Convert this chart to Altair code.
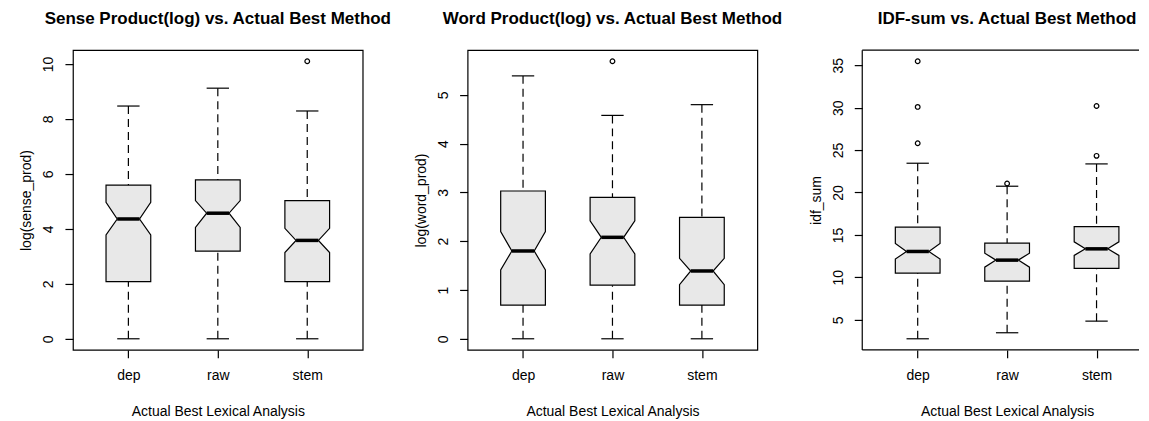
import altair as alt
import pandas as pd

groups = ["dep", "raw", "stem"]

# Panel 1: log(sense_prod)
sense_lo = [0.0, 0.0, 0.0]
sense_q1 = [2.08, 3.19, 2.08]
sense_med = [4.36, 4.57, 3.58]
sense_q3 = [5.59, 5.78, 5.03]
sense_hi = [8.47, 9.12, 8.29]
sense_notch_lo = [3.78, 4.05, 3.14]
sense_notch_hi = [4.97, 5.03, 4.02]
sense_out_group = ["stem"]
sense_out_value = [10.1]
sense_ticks = [0, 2, 4, 6, 8, 10]

# Panel 2: log(word_prod)
word_lo = [0.0, 0.0, 0.0]
word_q1 = [0.69, 1.10, 0.69]
word_med = [1.80, 2.08, 1.39]
word_q3 = [3.03, 2.90, 2.49]
word_hi = [5.39, 4.58, 4.80]
word_notch_lo = [1.41, 1.74, 1.11]
word_notch_hi = [2.20, 2.42, 1.65]
word_out_group = ["raw"]
word_out_value = [5.69]
word_ticks = [0, 1, 2, 3, 4, 5]

# Panel 3: idf_sum
idf_lo = [2.76, 3.47, 4.84]
idf_q1 = [10.50, 9.55, 11.05]
idf_med = [13.05, 12.03, 13.36]
idf_q3 = [15.91, 14.03, 15.99]
idf_hi = [23.45, 20.74, 23.37]
idf_notch_lo = [12.15, 11.20, 12.58]
idf_notch_hi = [14.00, 12.85, 14.19]
idf_out_group = ["dep", "dep", "dep", "raw", "stem", "stem"]
idf_out_value = [25.81, 30.09, 35.47, 21.06, 24.32, 30.20]
idf_ticks = [5, 10, 15, 20, 25, 30, 35]

FONT = "Liberation Sans"
HALF = 0.25          # half box width in x units
FULL_W = 290
PX_PER_UNIT = FULL_W / 3.24
H = 300


def r_range(lo, hi):
    ext = (hi - lo) * 0.04
    return [lo - ext, hi + ext]


def panel(title, ytitle, lo, q1, med, q3, hi, nlo, nhi, og, ov, yticks, width, framed):
    rows = []
    for i, g in enumerate(groups):
        p = i + 1
        ys = [q1[i], nlo[i], med[i], nhi[i], q3[i]]
        hw = [HALF, HALF, HALF / 2, HALF, HALF]
        for k, (yy, h) in enumerate(zip(ys, hw)):
            rows.append(dict(g=g, k=k, y=yy, xl=p - h, xr=p + h))
    box_df = pd.DataFrame(rows)
    st = pd.DataFrame(dict(
        g=groups, p=[1, 2, 3], lo=lo, q1=q1, med=med, q3=q3, hi=hi,
        cl=[i + 1 - HALF / 2 for i in range(3)],
        cr=[i + 1 + HALF / 2 for i in range(3)],
    ))
    out_df = pd.DataFrame(dict(p=[groups.index(g) + 1 for g in og], v=ov))

    allv = list(lo) + list(hi) + list(ov)
    ydom = r_range(min(allv), max(allv))
    xdom = [0.38, 0.38 + width / PX_PER_UNIT]

    xscale = alt.Scale(domain=xdom, nice=False, zero=False)
    yscale = alt.Scale(domain=ydom, nice=False, zero=False)
    xaxis = alt.Axis(values=[1, 2, 3], labelExpr=f"{groups}[datum.value - 1]",
                     title="Actual Best Lexical Analysis", grid=False, domain=False,
                     tickSize=8, labelPadding=11, titlePadding=22,
                     titleX=FULL_W / 2)
    yaxis = alt.Axis(values=yticks, title=ytitle, grid=False, domain=False,
                     tickSize=8, labelAngle=270, labelAlign="center",
                     labelBaseline="bottom", labelPadding=9, titlePadding=8)

    def X(f):
        return alt.X(f, type="quantitative", scale=xscale, axis=xaxis)

    def Y(f):
        return alt.Y(f, type="quantitative", scale=yscale, axis=yaxis)

    dash = [8, 5]
    lw = 1.2
    whisk_hi = alt.Chart(st).mark_rule(color="black", strokeWidth=lw, strokeDash=dash).encode(
        x=X("p"), y=Y("hi"), y2="q3:Q")
    whisk_lo = alt.Chart(st).mark_rule(color="black", strokeWidth=lw, strokeDash=dash).encode(
        x=X("p"), y=Y("lo"), y2="q1:Q")
    cap_hi = alt.Chart(st).mark_rule(color="black", strokeWidth=lw).encode(
        x=X("cl"), x2="cr:Q", y=Y("hi"))
    cap_lo = alt.Chart(st).mark_rule(color="black", strokeWidth=lw).encode(
        x=X("cl"), x2="cr:Q", y=Y("lo"))
    box = alt.Chart(box_df).mark_area(orient="horizontal", fill="#e8e8e8", fillOpacity=1,
                                      stroke="black", strokeWidth=lw).encode(
        y=Y("y"), x=X("xl"), x2="xr:Q", detail="g:N")
    median = alt.Chart(st).mark_rule(color="black", strokeWidth=3.5, strokeCap="butt").encode(
        x=X("cl"), x2="cr:Q", y=Y("med"))
    outl = alt.Chart(out_df).mark_point(shape="circle", filled=False, size=22, color="black",
                                        strokeWidth=1.2, opacity=1).encode(x=X("p"), y=Y("v"))
    layers = [whisk_hi, whisk_lo, cap_hi, cap_lo, box, median, outl]
    props = dict(width=width, height=H,
                 title=alt.TitleParams(text=title, anchor="middle", frame="group",
                                       dx=(FULL_W - width) / 2))
    if not framed:
        one = pd.DataFrame({"a": [0]})
        top = alt.Chart(one).mark_rule(color="black", strokeWidth=lw).encode(
            x=alt.value(0), x2=alt.value(width), y=alt.value(0))
        bot = alt.Chart(one).mark_rule(color="black", strokeWidth=lw).encode(
            x=alt.value(0), x2=alt.value(width), y=alt.value(H))
        left = alt.Chart(one).mark_rule(color="black", strokeWidth=lw).encode(
            x=alt.value(0), y=alt.value(0), y2=alt.value(H))
        layers += [top, bot, left]
        props["view"] = alt.ViewBackground(stroke="transparent")
    return alt.layer(*layers).properties(**props)


p1 = panel("Sense Product(log) vs. Actual Best Method", "log(sense_prod)",
           sense_lo, sense_q1, sense_med, sense_q3, sense_hi, sense_notch_lo, sense_notch_hi,
           sense_out_group, sense_out_value, sense_ticks, FULL_W, True)
p2 = panel("Word Product(log) vs. Actual Best Method", "log(word_prod)",
           word_lo, word_q1, word_med, word_q3, word_hi, word_notch_lo, word_notch_hi,
           word_out_group, word_out_value, word_ticks, FULL_W, True)
p3 = panel("IDF-sum vs. Actual Best Method", "idf_sum",
           idf_lo, idf_q1, idf_med, idf_q3, idf_hi, idf_notch_lo, idf_notch_hi,
           idf_out_group, idf_out_value, idf_ticks, 277, False)

chart = alt.hconcat(p1, p2, p3, spacing=105, bounds="flush").properties(
    padding={"left": 11, "top": 0, "right": 0, "bottom": 0},
    background="white",
).configure_view(stroke="black", strokeWidth=1.2).configure_axis(
    labelFont=FONT, titleFont=FONT, labelFontSize=14, titleFontSize=14,
    labelColor="black", titleColor="black", tickColor="black", tickWidth=1.2,
    titleFontWeight="normal"
).configure_title(
    font=FONT, fontSize=17, fontWeight="bold", color="black", offset=22,
    baseline="alphabetic"
)

chart.save("out.html", embed_options={"renderer": "svg", "actions": False})
